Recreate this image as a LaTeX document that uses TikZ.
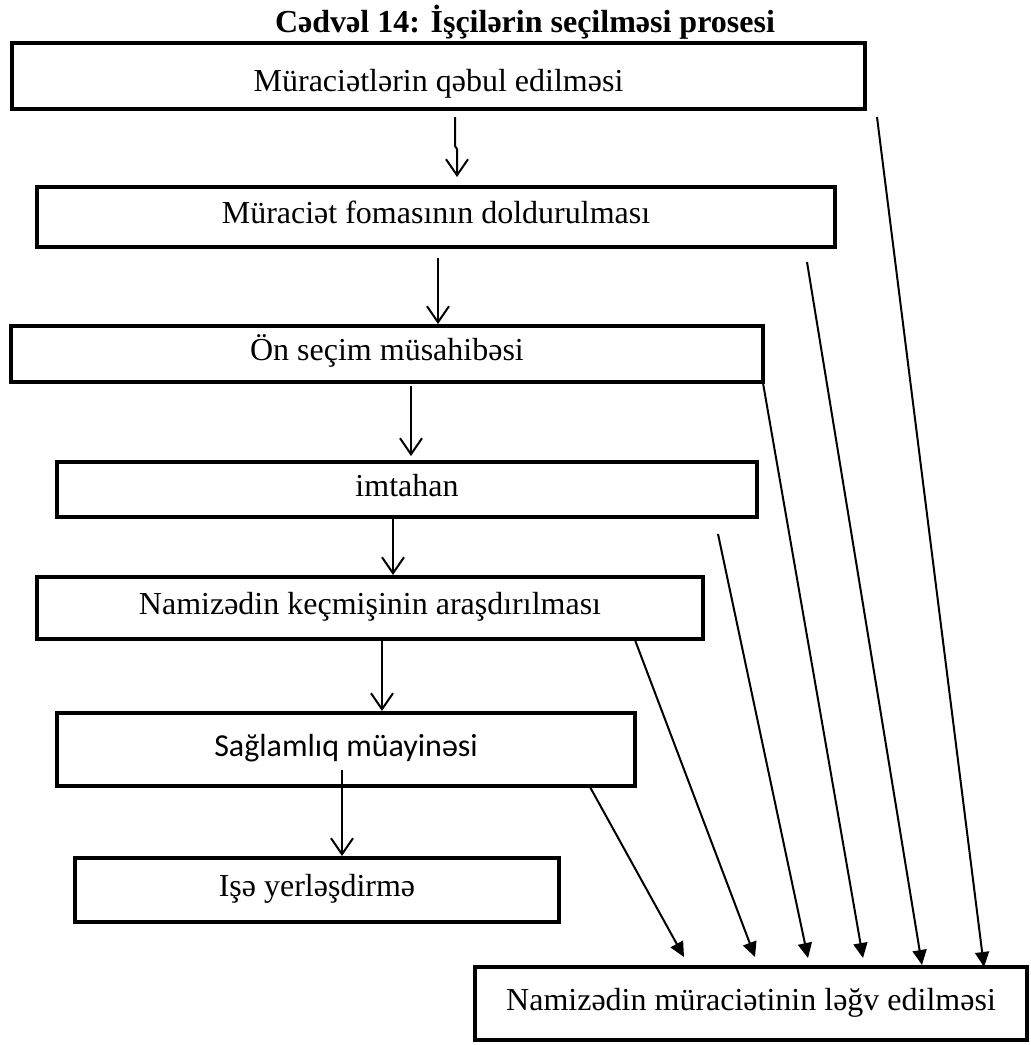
\documentclass[tikz,border=0pt]{standalone}
\usepackage{fontspec}
\setmainfont{Liberation Serif}
\newfontfamily\carlito{Carlito}
\usetikzlibrary{arrows.meta}
\tikzset{
  ptitle/.style={font=\fontsize{16}{19}\selectfont\bfseries},
  pstage/.style={draw=black, line width=2pt, inner sep=0pt,
                 font=\fontsize{16}{19}\selectfont,
                 text height=0.66em, text depth=0pt},
  pnext/.style={-{Straight Barb[length=8pt,width=11pt]}, line width=1pt},
  pdrop/.style={-{Triangle[length=7.5pt,width=7pt]}, line width=1pt},
}

\begin{document}
\begin{tikzpicture}[x=0.5pt,y=-0.5pt]
  \useasboundingbox (0,0) rectangle (1030,1045);

  \node[ptitle, anchor=base] (title) at (525,32)
    {Cədvəl 14: İşçilərin seçilməsi prosesi};

  % stages of the process
  \node[pstage, minimum width=426.5pt, minimum height=33pt,
        text height=15pt, text depth=0pt] (s1) at (438.5,76)
    {Müraciətlərin qəbul edilməsi};
  \node[pstage, minimum width=399pt, minimum height=30pt] (s2) at (436,217)
    {Müraciət fomasının doldurulması};
  \node[pstage, minimum width=376pt, minimum height=28pt] (s3) at (387,354)
    {Ön seçim müsahibəsi};
  \node[pstage, minimum width=350pt, minimum height=27.5pt] (s4) at (407,489.5)
    {imtahan};
  \node[pstage, minimum width=333pt, minimum height=31pt] (s5) at (370,608)
    {Namizədin keçmişinin araşdırılması};
  \node[pstage, font=\carlito\fontsize{16}{19}\selectfont,
        minimum width=289pt, minimum height=36.5pt] (s6) at (346,749.5)
    {Sağlamlıq müayinəsi};
  \node[pstage, minimum width=242pt, minimum height=32pt] (s7) at (317,890)
    {Işə yerləşdirmə};
  \node[pstage, minimum width=276pt, minimum height=36.5pt] (reject) at (751,1003.5)
    {Namizədin müraciətinin ləğv edilməsi};

  % main flow
  \coordinate (n1) at (455,117);
  \coordinate (n1k) at (455,146);
  \coordinate (n1j) at (457,149);
  \coordinate (n1e) at (457,177);
  \draw[pnext] (n1) -- (n1k) -- (n1j) -- (n1e);
  \coordinate (n2) at (438,258);
  \draw[pnext] (n2) -- (s3.north -| n2);
  \coordinate (n3) at (411,386);
  \draw[pnext] (n3) -- ([yshift=2pt]s4.north -| n3);
  \coordinate (n4) at (393,517);
  \draw[pnext] (n4) -- (s5.north -| n4);
  \coordinate (n5) at (382,639);
  \draw[pnext] (n5) -- (s6.north -| n5);
  \coordinate (n6) at (342,770);
  \draw[pnext] (n6) -- (s7.north -| n6);

  % rejections
  \foreach \sx/\sy/\ex/\ey [count=\i] in {%
      877/117/984/967, 807/262/922/965, 763/383/863/958,
      718/534/808/958, 635/640/755/957, 590/787/684/957}
  {
    \coordinate (drop\i) at (\sx,\sy);
    \coordinate (land\i) at (\ex,\ey);
    \draw[pdrop] (drop\i) -- (land\i);
  }

\end{tikzpicture}
\end{document}
